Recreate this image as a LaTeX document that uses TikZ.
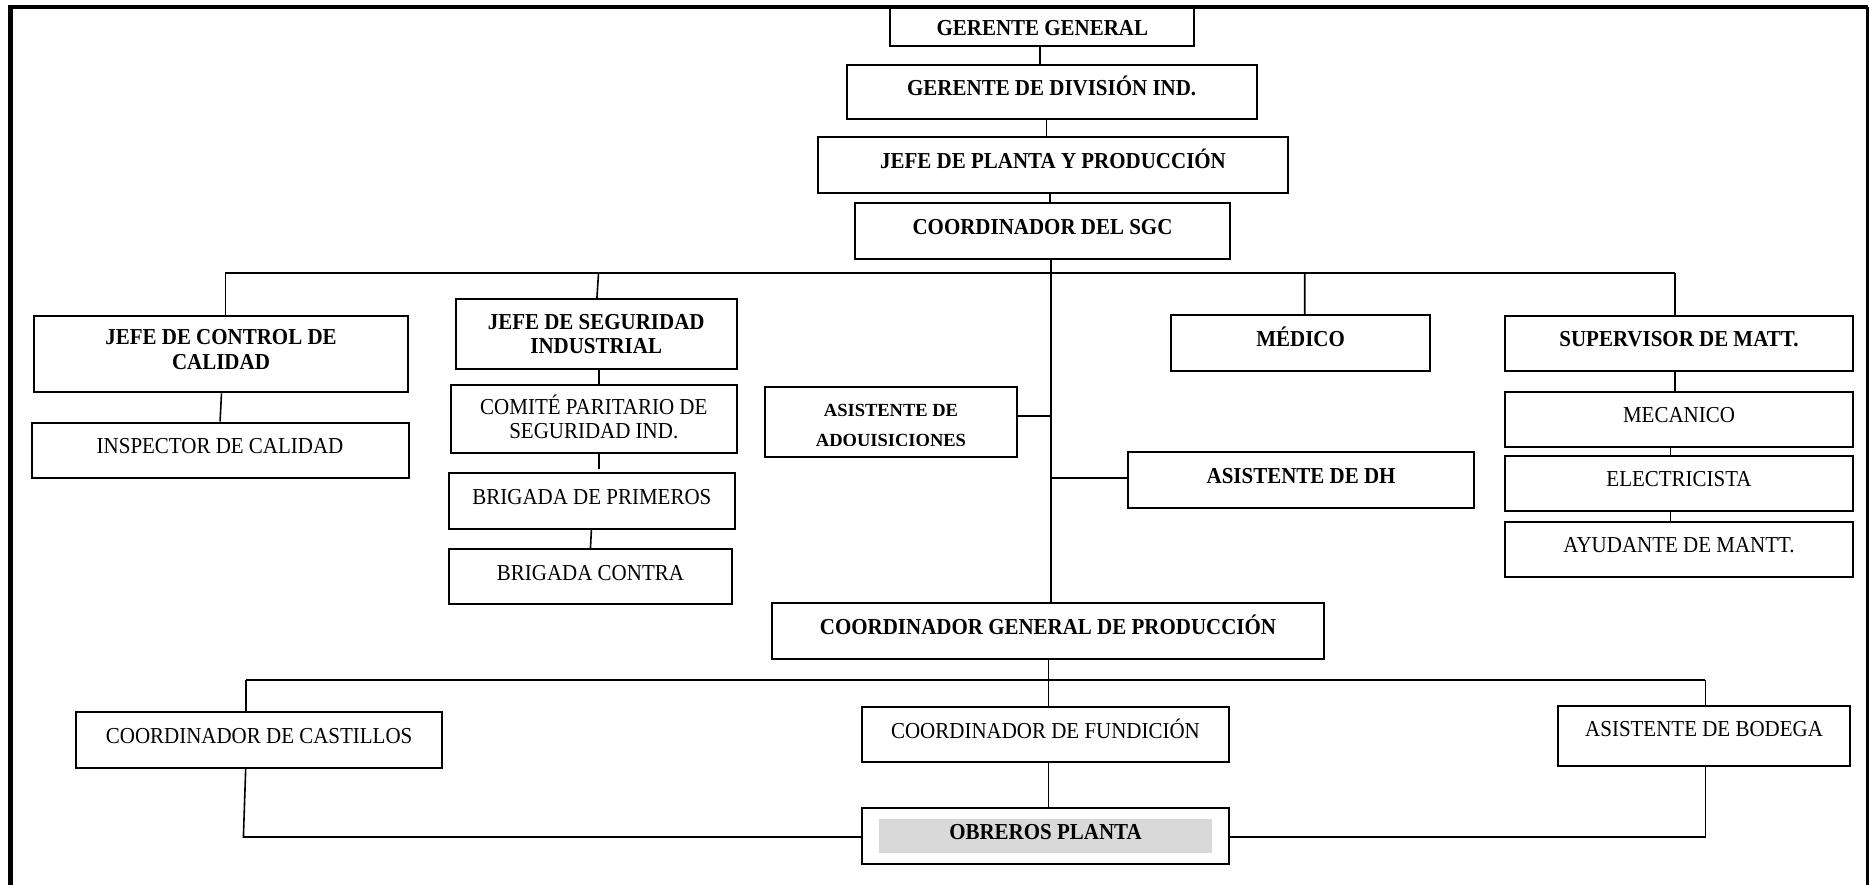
\documentclass[tikz,border=0pt]{standalone}
\usepackage{fontspec}
\setmainfont{Liberation Serif}[FakeStretch=0.92]
\newfontfamily\adqfont{Liberation Serif}
\definecolor{obrgray}{HTML}{D9D9D9}
% extra depth under the last line of a two-line label, to lift it in its box
\newcommand{\liftby}[1]{\rule[-#1]{0pt}{#1}}
\begin{document}
\begin{tikzpicture}[x=1pt,y=1pt,
  box/.style={draw, line width=2pt, rectangle, inner sep=0pt,
    font=\fontsize{22.8}{24.3}\selectfont},
  bx/.style={box, font=\fontsize{22.8}{24.3}\selectfont\bfseries},
  tx/.style={text height=15.1pt, text depth=#1},
  tx/.default=8.6pt,
  wh/.style 2 args={minimum width=#1pt, minimum height=#2pt},
  link/.style={line width=1.6pt},
  frametop/.style={line width=4.5pt},
  frameside/.style={line width=2.5pt}
]
\useasboundingbox (0,0) rectangle (1869,-885);

% outer frame (open at the bottom)
\draw[frametop] (10.5,-900) -- (10.5,-7) -- (1867.5,-7);
\draw[frameside] (1867.5,-7) -- (1867.5,-900);

% management chain
\node[bx, text height=18pt, text depth=0pt, wh={304.1}{39.3}] (gg) at (1042.35,-26.65) {GERENTE GENERAL};
\node[bx, tx, wh={410.2}{54.3}] (gdi) at (1051.7,-92.15) {GERENTE DE DIVISIÓN IND.};
\node[bx, tx, wh={470.3}{55.4}] (jpp) at (1053.05,-165) {JEFE DE PLANTA Y PRODUCCIÓN};
\node[bx, tx, wh={375}{55.4}] (sgc) at (1042.5,-231) {COORDINADOR DEL SGC};

% staff level
\node[bx, align=center, wh={374.2}{76.3}] (jcc) at (221,-354.15) {JEFE DE CONTROL DE\\CALIDAD\liftby{9.6pt}};
\node[box, tx, wh={377.1}{55}] (icc) at (220.05,-450.2) {INSPECTOR DE CALIDAD};

\node[bx, align=center, wh={281.2}{70}] (jsi) at (596.2,-334.3) {JEFE DE SEGURIDAD\\INDUSTRIAL};
\node[box, align=center, wh={286}{67.7}] (cps) at (593.8,-418.85) {COMITÉ PARITARIO DE\\SEGURIDAD IND.\liftby{4.8pt}};
\node[box, tx, wh={286}{55.4}] (bp) at (591.9,-501) {BRIGADA DE PRIMEROS};
\node[box, tx, wh={283.1}{55}] (bc) at (590.45,-576.8) {BRIGADA CONTRA};

\node[box, wh={251.6}{70}] (adq) at (891,-421.7) {};
\begin{scope}
  \clip (adq.north west) rectangle (1016.8,-445.5);
  \node[anchor=base, inner sep=0pt, font=\adqfont\bfseries\fontsize{18.5}{20}\selectfont] (adqa) at (891,-416) {ASISTENTE DE};
  \node[anchor=base, inner sep=0pt, font=\adqfont\bfseries\fontsize{18.5}{20}\selectfont] (adqb) at (891,-446.5) {ADQUISICIONES};
\end{scope}

\node[bx, tx, wh={346.6}{55.7}] (dh) at (1301.1,-480.15) {ASISTENTE DE DH};
\node[bx, tx, wh={258.4}{55.4}] (med) at (1300.6,-343) {MÉDICO};

\node[bx, tx, wh={348}{55}] (sup) at (1679,-343.2) {SUPERVISOR DE MATT.};
\node[box, tx, wh={348}{54.4}] (mec) at (1679,-419.5) {MECANICO};
\node[box, tx, wh={348}{55}] (elec) at (1679,-483.5) {ELECTRICISTA};
\node[box, tx, wh={348}{54.7}] (ayu) at (1679,-549.35) {AYUDANTE DE MANTT.};

% production
\node[bx, tx, wh={552}{55.7}] (cgp) at (1048,-631.15) {COORDINADOR GENERAL DE PRODUCCIÓN};
\node[box, tx, wh={365.7}{55.4}] (cast) at (259.15,-740) {COORDINADOR DE CASTILLOS};
\node[box, tx, wh={366.6}{55}] (fund) at (1045.5,-734.8) {COORDINADOR DE FUNDICIÓN};
\node[box, tx=14pt, wh={291.7}{60.3}] (bod) at (1704.05,-735.85) {ASISTENTE DE BODEGA};
\fill[obrgray] (878.5,-819) rectangle (1212,-853.3);
\node[bx, tx, wh={366.6}{55.7}] (obr) at (1045.5,-836.15) {OBREROS PLANTA};

% connectors: management chain
\draw[link] ([xshift=-2.55pt]gg.south) -- ([xshift=-11.9pt]gdi.north);
\draw[link] ([xshift=-5.4pt]gdi.south) -- ([xshift=-6.75pt]jpp.north);
\draw[link] ([xshift=-2.85pt]jpp.south) -- ([xshift=7.7pt]sgc.north);
\draw[link] ([xshift=8.5pt]sgc.south) -- ([xshift=3pt]cgp.north);

% first bus
\coordinate (bl) at (225.4,-273.3);
\coordinate (bjs) at (598.5,-273.3);
\coordinate (bmed) at (1304.7,-273.3);
\coordinate (br) at (1675,-273.3);
\draw[link] (bl) -- (br);
\draw[link] (bl) -- ([xshift=4.4pt]jcc.north);
\draw[link] (bjs) -- ([xshift=0.7pt]jsi.north);
\draw[link] (bmed) -- ([xshift=4.1pt]med.north);
\draw[link] (br) -- ([xshift=-4pt]sup.north);

\draw[link] ([xshift=0.5pt]jcc.south) -- (icc.north);
\draw[link] ([xshift=2.8pt]jsi.south) -- ([xshift=5.2pt]cps.north);
\coordinate (cpsend) at ([xshift=5.2pt,yshift=-15.6pt]cps.south);
\draw[link] ([xshift=5.2pt]cps.south) -- (cpsend);
\draw[link] ([xshift=-0.5pt]bp.south) -- (bc.north);

\coordinate (tadq) at (1051,-416);
\coordinate (tdh) at (1051,-477.7);
\draw[link] (adq.east |- tadq) -- (tadq);
\draw[link] (tdh) -- (dh.west |- tdh);

\draw[link] ([xshift=-4pt]sup.south) -- ([xshift=-4pt]mec.north);
\draw[link] ([xshift=-8.7pt]mec.south) -- ([xshift=-8.7pt]elec.north);
\draw[link] ([xshift=-8.7pt]elec.south) -- ([xshift=-8.7pt]ayu.north);

% second bus
\coordinate (b2l) at (245.7,-680);
\coordinate (b2r) at (1705.3,-680);
\draw[link] (b2l) -- (b2r);
\draw[link] ([xshift=0.3pt]cgp.south) -- ([xshift=2.8pt]fund.north);
\draw[link] (b2l) -- ([xshift=-13.45pt]cast.north);
\draw[link] (b2r) -- ([xshift=1.25pt]bod.north);
\draw[link] ([xshift=2.8pt]fund.south) -- ([xshift=2.8pt]obr.north);

\coordinate (ol) at (243.4,-837);
\coordinate (orr) at (1705.3,-837);
\draw[link] ([xshift=-13.45pt]cast.south) -- (ol) -- (obr.west |- ol);
\draw[link] ([xshift=1.25pt]bod.south) -- (orr) -- (obr.east |- orr);
\end{tikzpicture}
\end{document}
